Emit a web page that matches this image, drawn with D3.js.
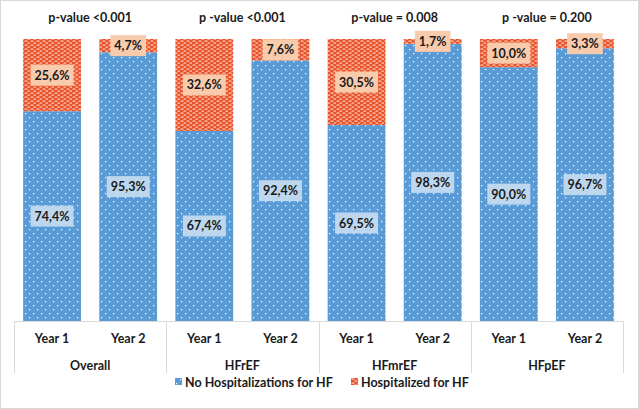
<!DOCTYPE html>
<html>
<head>
<meta charset="utf-8">
<script src="https://cdn.jsdelivr.net/npm/d3@7"></script>
<style>
  html, body { margin: 0; padding: 0; background: #fff; }
  svg { display: block; font-family: Lato, "Open Sans", sans-serif; }
</style>
</head>
<body>
<div id="chart"></div>
<script>
const groups = ["Overall", "HFrEF", "HFmrEF", "HFpEF"];
const years = ["Year 1", "Year 2"];
const pValues = ["p-value <0.001", "p -value <0.001", "p-value = 0.008", "p -value = 0.200"];
// no hospitalization share, per group then year
const noHosp = [74.4, 95.3, 67.4, 92.4, 69.5, 98.3, 90.0, 96.7];
const hosp = [25.6, 4.7, 32.6, 7.6, 30.5, 1.7, 10.0, 3.3];
const seriesNames = ["No Hospitalizations for HF", "Hospitalized for HF"];

const width = 639, height = 409;
const blue = "#5b9bd5", orange = "#e8532b";
const blueLabel = "#bdd7ee", orangeLabel = "#f8cbad";

const svg = d3.select("#chart").append("svg")
  .attr("width", width).attr("height", height);

const defs = svg.append("defs");
const dots = defs.append("pattern").attr("id", "dots")
  .attr("patternUnits", "userSpaceOnUse").attr("width", 8).attr("height", 8);
dots.append("rect").attr("width", 8).attr("height", 8).attr("fill", blue);
dots.append("rect").attr("x", 1).attr("y", 1).attr("width", 1.2).attr("height", 1.2).attr("fill", "#fff");
dots.append("rect").attr("x", 5).attr("y", 5).attr("width", 1.2).attr("height", 1.2).attr("fill", "#fff");

const bricks = defs.append("pattern").attr("id", "bricks")
  .attr("patternUnits", "userSpaceOnUse").attr("width", 6).attr("height", 4);
bricks.append("rect").attr("width", 6).attr("height", 4).attr("fill", orange);
bricks.append("rect").attr("x", 0.5).attr("y", 0.5).attr("width", 3).attr("height", 1.2).attr("fill", "#fbd3c3");
bricks.append("rect").attr("x", 3.5).attr("y", 2.5).attr("width", 3).attr("height", 1.2).attr("fill", "#fbd3c3");

// outer frame
svg.append("rect").attr("x", 0.5).attr("y", 0.5)
  .attr("width", width - 1).attr("height", height - 1)
  .attr("fill", "none").attr("stroke", "#d9d9d9");

const cats = [];
groups.forEach(g => years.forEach(y => cats.push(g + "|" + y)));
const rows = cats.map((c, i) => ({ key: c, group: c.split("|")[0], year: c.split("|")[1], a: noHosp[i], b: hosp[i] }));

const x0 = 14, x1 = 623, yBase = 321, yTop = 39;
const x = d3.scaleBand().domain(cats).range([x0, x1]).paddingInner(0.24).paddingOuter(0.12);
const xg = d3.scaleBand().domain(groups).range([x0, x1]);
const y = d3.scaleLinear().domain([0, 100]).range([yBase, yTop]);

const stack = d3.stack().keys(["a", "b"])(rows);
const fills = ["url(#dots)", "url(#bricks)"];

svg.append("g").selectAll("g").data(stack).join("g")
  .attr("fill", (d, i) => fills[i])
  .selectAll("rect").data(d => d).join("rect")
  .attr("x", d => x(d.data.key))
  .attr("width", x.bandwidth())
  .attr("y", d => y(d[1]))
  .attr("height", d => y(d[0]) - y(d[1]));

// data labels
const fmt = v => v.toFixed(1).replace(".", ",") + "%";
const labelLayer = svg.append("g").attr("font-size", 12.5).attr("font-weight", "bold");
stack.forEach((s, si) => {
  s.forEach(d => {
    const cx = x(d.data.key) + x.bandwidth() / 2;
    const cy = y((d[0] + d[1]) / 2);
    const g = labelLayer.append("g");
    const t = g.append("text").attr("x", cx).attr("y", cy)
      .attr("text-anchor", "middle").attr("dy", "0.36em")
      .attr("fill", "#1a1a1a").text(fmt(d[1] - d[0]));
    const w = t.node().getComputedTextLength() + 8;
    g.insert("rect", "text").attr("x", cx - w / 2).attr("y", cy - 10.5)
      .attr("width", w).attr("height", 21)
      .attr("fill", si === 0 ? blueLabel : orangeLabel);
  });
});

// p-value titles
svg.append("g").selectAll("text").data(groups).join("text")
  .attr("x", g => xg(g) + xg.bandwidth() / 2)
  .attr("y", 22)
  .attr("text-anchor", "middle")
  .attr("font-size", 12.5).attr("font-weight", "bold").attr("fill", "#1a1a1a")
  .text((g, i) => pValues[i]);

// category axis
const axis = svg.append("g").attr("stroke", "#d9d9d9").attr("fill", "none");
axis.append("line").attr("x1", x0).attr("x2", x1).attr("y1", yBase + 0.5).attr("y2", yBase + 0.5);
xg.domain().concat([null]).forEach(g => {
  const xx = g === null ? x1 : xg(g);
  axis.append("line").attr("x1", Math.round(xx) + 0.5).attr("x2", Math.round(xx) + 0.5)
    .attr("y1", yBase).attr("y2", 373);
});

svg.append("g").selectAll("text").data(rows).join("text")
  .attr("x", d => x(d.key) + x.bandwidth() / 2)
  .attr("y", 343)
  .attr("text-anchor", "middle")
  .attr("font-size", 12.5).attr("font-weight", "bold").attr("fill", "#1a1a1a")
  .text(d => d.year);

svg.append("g").selectAll("text").data(groups).join("text")
  .attr("x", g => xg(g) + xg.bandwidth() / 2)
  .attr("y", 370)
  .attr("text-anchor", "middle")
  .attr("font-size", 12.5).attr("font-weight", "bold").attr("fill", "#1a1a1a")
  .text(g => g);

// legend
const legendX = [175, 351];
const legend = svg.append("g").selectAll("g").data(seriesNames).join("g")
  .attr("transform", (d, i) => `translate(${legendX[i]},382)`);
legend.append("rect").attr("x", 0).attr("y", -4).attr("width", 7).attr("height", 7)
  .attr("fill", (d, i) => fills[i]);
legend.append("text").attr("x", 10).attr("dy", "0.36em")
  .attr("font-size", 12.5).attr("font-weight", "bold").attr("fill", "#1a1a1a")
  .text(d => d);
</script>
</body>
</html>
